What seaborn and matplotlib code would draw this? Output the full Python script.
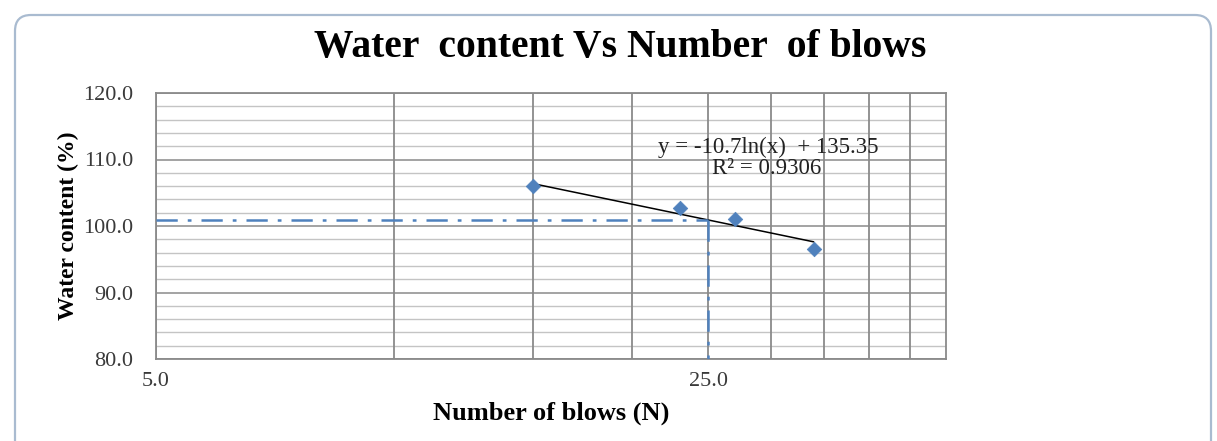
import numpy as np
import pandas as pd
import matplotlib
matplotlib.use("Agg")
import matplotlib.pyplot as plt
import seaborn as sns
from matplotlib.patches import FancyBboxPatch
from matplotlib.ticker import FixedLocator, NullFormatter

# ---- data ----
blows = [15, 23, 27, 34]
water_content = [106.0, 102.7, 101.0, 96.6]
fit_slope = -10.7
fit_intercept = 135.35
r_squared = 0.9306
target_blows = 25
x_major_ticks = [5, 25]
x_tick_labels = ["5.0", "25.0"]
x_minor_grid = [10, 15, 20, 30, 35, 40, 45]
y_major_ticks = [80, 90, 100, 110, 120]
y_tick_labels = ["80.0", "90.0", "100.0", "110.0", "120.0"]
y_minor_grid = [82, 84, 86, 88, 92, 94, 96, 98, 102, 104, 106, 108, 112, 114, 116, 118]

sns.set_theme(style="white")
plt.rcParams["font.family"] = ["Liberation Serif", "DejaVu Serif"]

W, H = 1217, 441
fig = plt.figure(figsize=(W / 100, H / 100), dpi=100)
fig.patch.set_facecolor("white")

# rounded chart frame (pixel coordinates)
frame = FancyBboxPatch((15, -20), 1196, 446,
                       boxstyle="round,pad=0,rounding_size=16",
                       transform=None, facecolor="white",
                       edgecolor="#a9bbd0", linewidth=1.6, zorder=0)
fig.add_artist(frame)

ax = fig.add_axes([156 / W, 1 - 359 / H, (946 - 156) / W, (359 - 93) / H])
ax.set_facecolor("white")

df = pd.DataFrame({"N": blows, "w": water_content})
ax.set_xscale("log")
ax.set_xlim(5, 50)
ax.set_ylim(80, 120)

# grid
for y in y_minor_grid:
    ax.axhline(y, color="#c4c4c4", lw=1.0, zorder=1)
for y in y_major_ticks:
    ax.axhline(y, color="#8a8a8a", lw=1.1, zorder=1)
for x in x_minor_grid:
    ax.axvline(x, color="#8a8a8a", lw=1.3, zorder=1)
for x in x_major_ticks:
    ax.axvline(x, color="#8a8a8a", lw=1.3, zorder=1)

# trendline
xf = np.linspace(min(blows), max(blows), 50)
trend = pd.DataFrame({"N": xf, "w": fit_slope * np.log(xf) + fit_intercept})
sns.lineplot(data=trend, x="N", y="w", ax=ax, color="black", lw=1.1, zorder=3)

# target lines
w25 = fit_slope * np.log(target_blows) + fit_intercept
dash = (8.5, 4, 1.5, 4)
ax.plot([5, target_blows], [w25, w25], color="#4f81bd", lw=1.8, dashes=dash, zorder=4)
ax.plot([target_blows, target_blows], [w25, 80], color="#4f81bd", lw=1.8, dashes=dash, zorder=4)

# data points
sns.scatterplot(data=df, x="N", y="w", ax=ax, marker="D", s=55, color="#4f81bd",
                edgecolor="#4f81bd", linewidth=0.5, zorder=5)

ax.xaxis.set_major_locator(FixedLocator(x_major_ticks))
ax.set_xticklabels(x_tick_labels)
ax.xaxis.set_minor_locator(FixedLocator(x_minor_grid))
ax.xaxis.set_minor_formatter(NullFormatter())
ax.set_yticks(y_major_ticks)
ax.set_yticklabels(y_tick_labels)
ax.tick_params(axis="both", which="both", length=0, labelsize=16, colors="#3a3a3a")
ax.tick_params(axis="y", pad=16.5)
ax.tick_params(axis="x", pad=9)
for s in ax.spines.values():
    s.set_color("#8a8a8a")
    s.set_linewidth(1.3)
    s.set_visible(True)

ax.set_xlabel("Number of blows (N)", fontsize=19, fontweight="bold", color="black", labelpad=8)
ax.set_ylabel("Water content (%)", fontsize=17, fontweight="bold", color="black", labelpad=3)

fig.text(768 / W, 1 - 147 / H, "y = -10.7ln(x)  + 135.35", fontsize=16.5, ha="center",
         va="center", color="#222222")
fig.text(767 / W, 1 - 169 / H, "R² = %.4f" % r_squared, fontsize=16.5, ha="center",
         va="center", color="#222222")

fig.text(620 / W, 1 - 47 / H, "Water  content Vs Number  of blows", fontsize=28.5,
         fontweight="bold", ha="center", va="center", color="black")

fig.savefig("out.png", dpi=100)
